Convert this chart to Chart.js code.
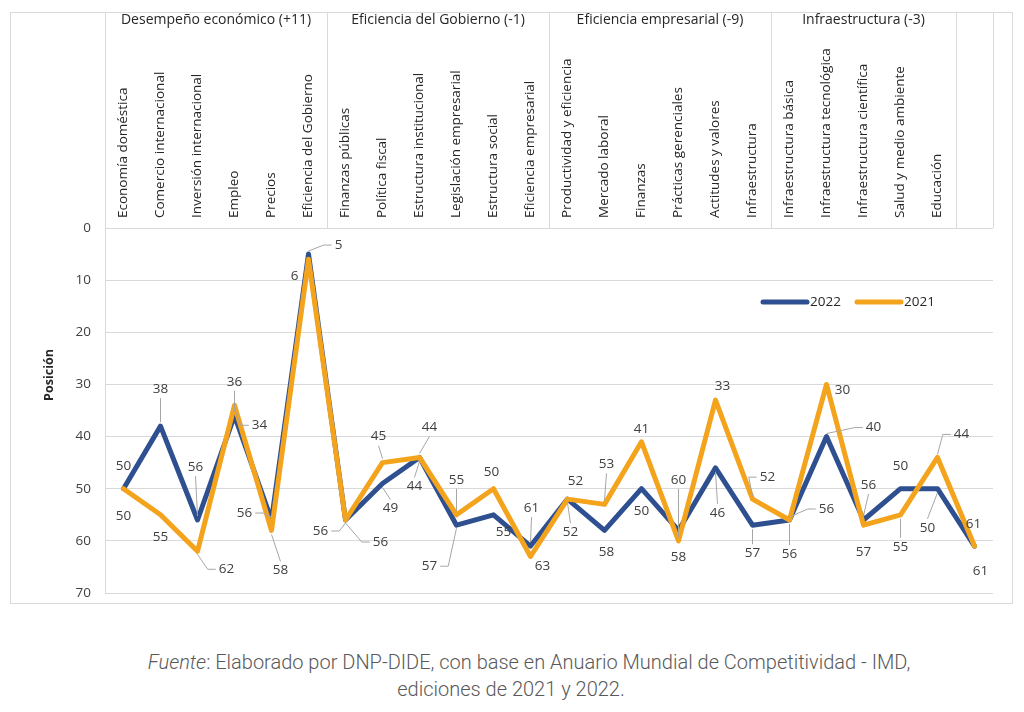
<!DOCTYPE html>
<html>
<head>
<meta charset="utf-8">
<script src="https://cdn.jsdelivr.net/npm/chart.js@4"></script>
<style>
  html, body { margin: 0; padding: 0; background: #ffffff; }
  #wrap { position: relative; width: 1024px; height: 712px; }
  #c { position: absolute; left: 0; top: 0; }
  .cap {
    position: absolute; left: 0; width: 1040px;
    text-align: center; font-family: Roboto, "Liberation Sans", sans-serif;
    font-weight: 300; font-size: 20px; line-height: 27px; color: #595959;
  }
  #cap1 { top: 649px; left: 9px; }
  #cap2 { top: 676px; left: -9px; }
</style>
</head>
<body>
<div id="wrap">
  <canvas id="c" width="1024" height="620"></canvas>
  <div class="cap" id="cap1"><i>Fuente</i>: Elaborado por DNP-DIDE, con base en Anuario Mundial de Competitividad - IMD,</div>
  <div class="cap" id="cap2">ediciones de 2021 y 2022.</div>
</div>
<script>
// ---------------- DATA ----------------
const categories = [
  'Economía doméstica', 'Comercio internacional', 'Inversión internacional', 'Empleo', 'Precios', 'Eficiencia del Gobierno',
  'Finanzas públicas', 'Política fiscal', 'Estructura institucional', 'Legislación empresarial', 'Estructura social', 'Eficiencia empresarial',
  'Productividad y eficiencia', 'Mercado laboral', 'Finanzas', 'Prácticas gerenciales', 'Actitudes y valores', 'Infraestructura',
  'Infraestructura básica', 'Infraestructura tecnológica', 'Infraestructura científica', 'Salud y medio ambiente', 'Educación', ''
];
const groupNames = ['Desempeño económico (+11)', 'Eficiencia del Gobierno (-1)', 'Eficiencia empresarial (-9)', 'Infraestructura (-3)', ''];
const groupSizes = [6, 6, 6, 5, 1];
const values2022 = [50, 38, 56, 36, 56, 5, 56, 49, 44, 57, 55, 61, 52, 58, 50, 58, 46, 57, 56, 40, 56, 50, 50, 61];
const values2021 = [50, 55, 62, 34, 58, 6, 56, 45, 44, 55, 50, 63, 52, 53, 41, 60, 33, 52, 56, 30, 57, 55, 44, 61];
const seriesNames = ['2022', '2021'];
const yMin = 0, yMax = 70, yStep = 10;
const yTitle = 'Posición';

// label placement (dx, dy from the point, leader line flag)
const labelPlace2022 = [[0,-23,0],[0,-37,1],[-2,-53,1],[0,-34,1],[-27,-7,1],[30,-9,1],[-25,11,1],[8,25,1],[-5,29,1],[-27,41,1],[10,17,0],[1,-38,1],
  [3,33,1],[2,22,0],[0,22,0],[0,27,0],[2,45,1],[0,28,1],[0,34,1],[47,-9,1],[5,-35,1],[0,-23,0],[-10,39,1],[6,25,0]];
const labelPlace2021 = [[0,27,0],[0,22,0],[29,18,1],[25,20,1],[9,40,1],[-14,17,0],[35,22,1],[-4,-26,1],[10,-30,1],[0,-35,1],[-2,-17,0],[12,10,0],
  [8,-18,0],[2,-40,1],[0,-13,0],[0,-61,1],[7,-14,0],[15,-22,1],[37,-11,1],[16,6,0],[0,27,0],[0,32,1],[24,-23,1],[-1,-22,0]];

// ---------------- STYLE ----------------
const BLUE = '#2F5090';
const ORANGE = '#F4A31C';
const GRID = '#D9D9D9';
const TXT = '#262626';
const FONT = '"Open Sans", "DejaVu Sans", sans-serif';

const decorPlugin = {
  id: 'decor',
  beforeDraw(chart) {
    const ctx = chart.ctx;
    const area = chart.chartArea;
    const x = chart.scales.x;
    ctx.save();
    // outer frame
    ctx.strokeStyle = GRID;
    ctx.lineWidth = 1;
    ctx.strokeRect(10.5, 12.5, 1002, 591);
    // header table verticals
    const catW = (area.right - area.left) / categories.length;
    let idx = 0;
    const bounds = [area.left];
    groupSizes.forEach(s => { idx += s; bounds.push(area.left + idx * catW); });
    bounds.forEach(b => {
      const bx = Math.round(b) + 0.5;
      ctx.beginPath(); ctx.moveTo(bx, 12.5); ctx.lineTo(bx, area.top); ctx.stroke();
    });
    // group names
    ctx.fillStyle = TXT;
    ctx.font = '14px ' + FONT;
    ctx.textAlign = 'center';
    ctx.textBaseline = 'middle';
    groupNames.forEach((g, i) => {
      ctx.fillText(g, (bounds[i] + bounds[i + 1]) / 2, 20);
    });
    // category labels rotated
    ctx.font = '13.5px ' + FONT;
    categories.forEach((c, i) => {
      const px = x.getPixelForValue(i);
      ctx.save();
      ctx.translate(px, area.top - 10);
      ctx.rotate(-Math.PI / 2);
      ctx.textAlign = 'left';
      ctx.textBaseline = 'middle';
      ctx.fillText(c, 0, 0);
      ctx.restore();
    });
    // y title
    ctx.save();
    ctx.translate(49, 375);
    ctx.rotate(-Math.PI / 2);
    ctx.font = 'bold 12.5px ' + FONT;
    ctx.textAlign = 'center';
    ctx.textBaseline = 'middle';
    ctx.fillText(yTitle, 0, 0);
    ctx.restore();
    ctx.restore();
  },
  afterDraw(chart) {
    const ctx = chart.ctx;
    ctx.save();
    // legend
    const legendItems = [[BLUE, seriesNames[0], 763], [ORANGE, seriesNames[1], 857]];
    ctx.font = '13.5px ' + FONT;
    ctx.textBaseline = 'middle';
    ctx.textAlign = 'left';
    legendItems.forEach(([col, name, lx]) => {
      ctx.strokeStyle = col; ctx.lineWidth = 5; ctx.lineCap = 'round';
      ctx.beginPath(); ctx.moveTo(lx, 302); ctx.lineTo(lx + 44, 302); ctx.stroke();
      ctx.fillStyle = TXT;
      ctx.fillText(name, lx + 47, 302);
    });
    // data labels
    ctx.lineCap = 'butt';
    const places = [labelPlace2022, labelPlace2021];
    [0, 1].forEach(di => {
      const meta = chart.getDatasetMeta(chart.data.datasets.findIndex(d => d.label === seriesNames[di]));
      const ds = chart.data.datasets[meta.index];
      meta.data.forEach((pt, i) => {
        const [dx, dy, leader] = places[di][i];
        const txt = String(ds.data[i]);
        const cx = pt.x + dx, cy = pt.y + dy;
        ctx.font = '13.5px ' + FONT;
        const w = ctx.measureText(txt).width;
        const h = 12;
        if (leader) {
          ctx.strokeStyle = '#A6A6A6';
          ctx.lineWidth = 1;
          ctx.beginPath();
          if (Math.abs(dx) > w / 2 + 4) {
            const sgn = dx > 0 ? -1 : 1;
            const tx = cx + sgn * (w / 2 + 3);
            const ty = cy;
            const ex = tx + sgn * 8;
            ctx.moveTo(pt.x, pt.y + (ty > pt.y ? 3 : -3));
            ctx.lineTo(ex, ty);
            ctx.lineTo(tx, ty);
          } else {
            const ty = dy > 0 ? cy - h / 2 - 3 : cy + h / 2 + 3;
            ctx.moveTo(pt.x, pt.y + (dy > 0 ? 4 : -4));
            ctx.lineTo(cx, ty);
          }
          ctx.stroke();
        }
        ctx.fillStyle = '#404040';
        ctx.textAlign = 'center';
        ctx.textBaseline = 'middle';
        ctx.fillText(txt, cx, cy);
      });
    });
    ctx.restore();
  }
};

new Chart(document.getElementById('c'), {
  type: 'line',
  data: {
    labels: categories,
    datasets: [
      { label: seriesNames[0], data: values2022, borderColor: BLUE, backgroundColor: BLUE, borderWidth: 5, pointRadius: 0, tension: 0, order: 2, borderJoinStyle: 'round', borderCapStyle: 'round' },
      { label: seriesNames[1], data: values2021, borderColor: ORANGE, backgroundColor: ORANGE, borderWidth: 5, pointRadius: 0, tension: 0, order: 1, borderJoinStyle: 'round', borderCapStyle: 'round' }
    ]
  },
  options: {
    responsive: false,
    animation: false,
    devicePixelRatio: 1,
    layout: { padding: { top: 228, right: 31, bottom: 27, left: 0 } },
    plugins: { legend: { display: false }, tooltip: { enabled: false } },
    scales: {
      x: { display: false, offset: true },
      y: {
        reverse: true, min: yMin, max: yMax,
        afterFit(scale) { scale.width = 105; },
        ticks: { stepSize: yStep, color: '#404040', font: { family: FONT, size: 13.5 }, padding: 14 },
        grid: { color: GRID, drawTicks: false, lineWidth: 1 },
        border: { display: true, color: GRID }
      }
    }
  },
  plugins: [decorPlugin]
});
</script>
</body>
</html>
